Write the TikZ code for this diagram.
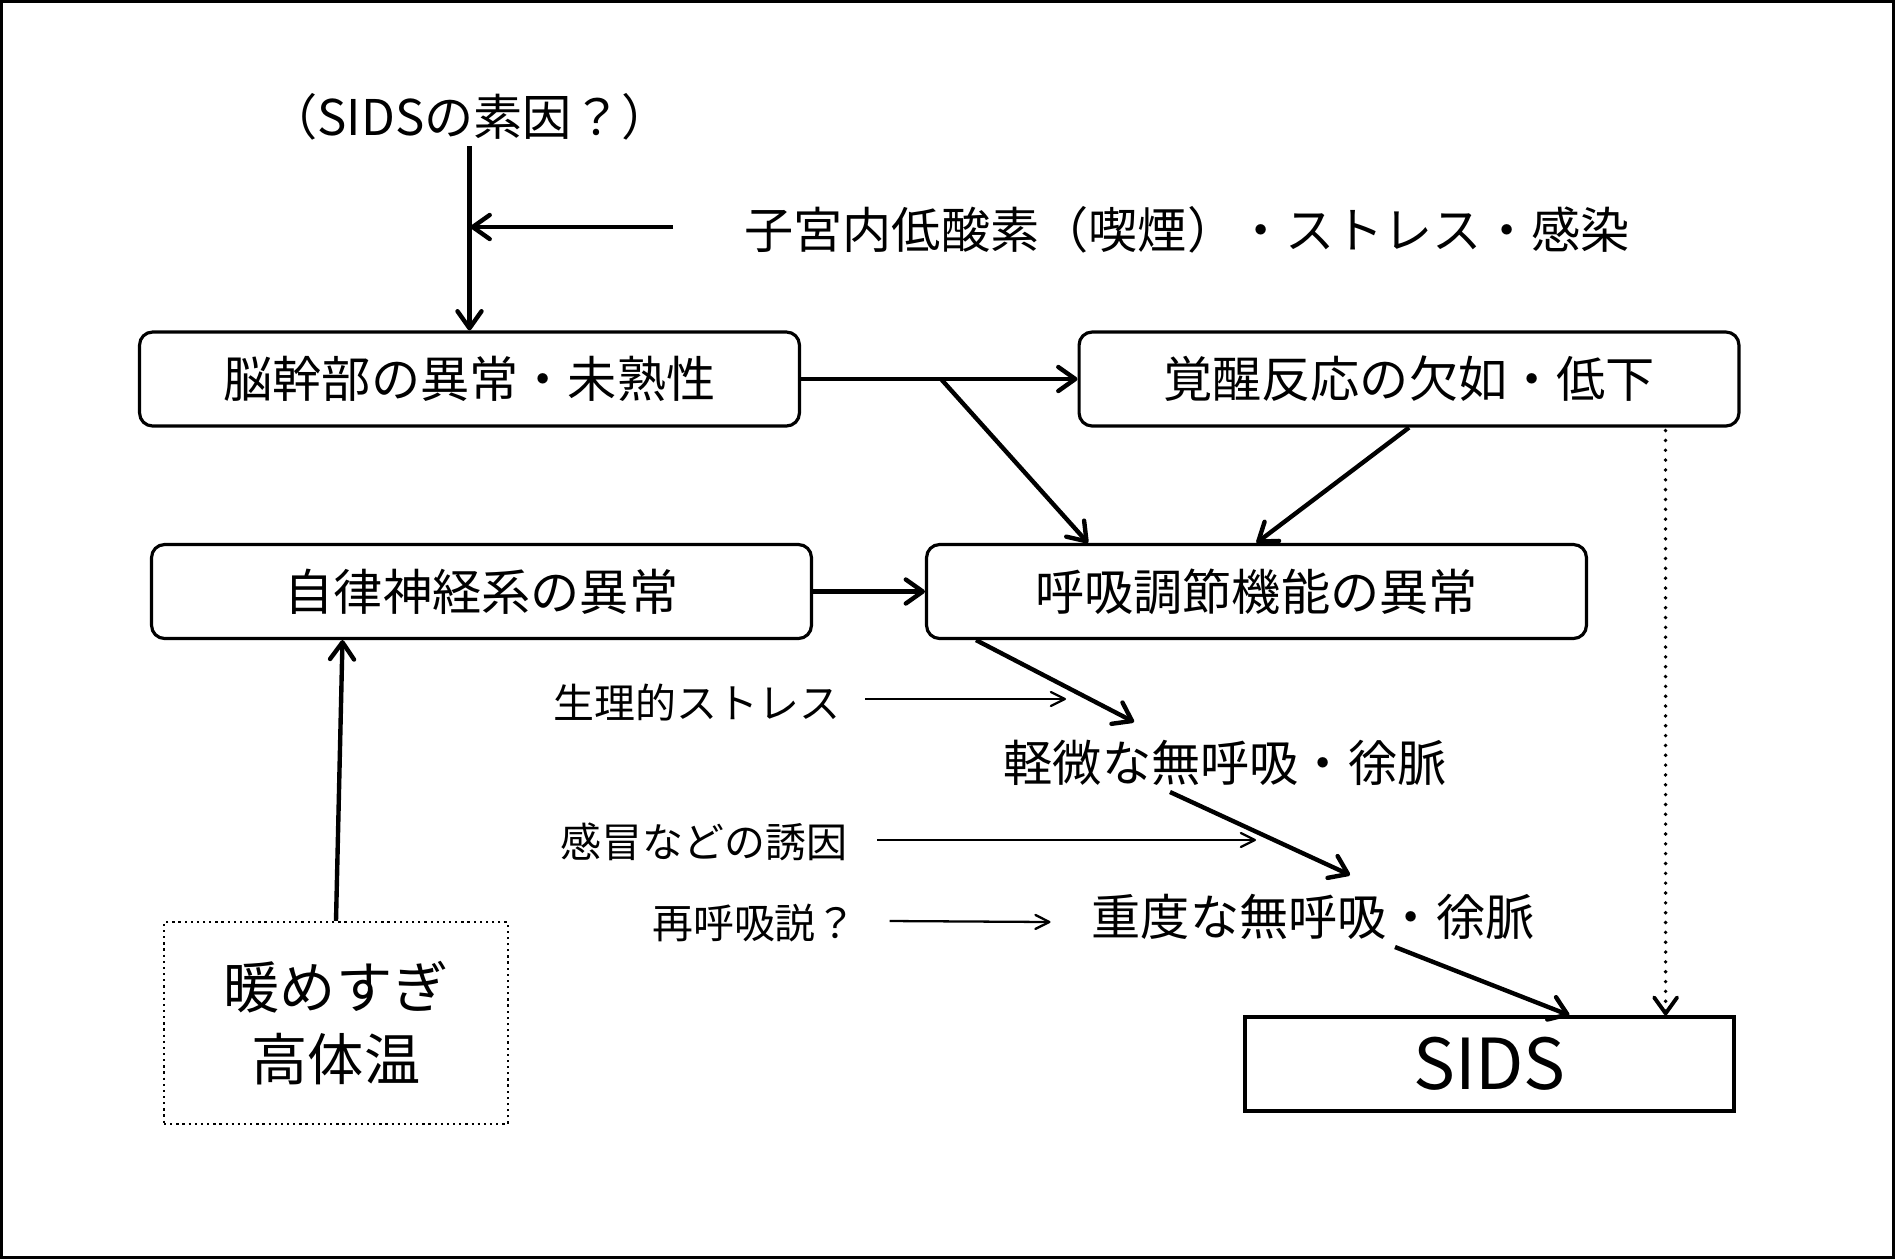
\documentclass[tikz,border=0pt]{standalone}
\usepackage{fontspec}
\setmainfont{Noto Sans CJK JP}
\usetikzlibrary{arrows.meta,calc}
\begin{document}
\begin{tikzpicture}[x=0.02cm,y=-0.02cm,
  rbox/.style={draw,line width=1.8pt,rounded corners=0.26cm,minimum width=13.2cm,minimum height=1.88cm,inner sep=0pt,font=\fontsize{28}{34}\selectfont},
  txt/.style={inner sep=0pt,font=\fontsize{28}{34}\selectfont},
  smalltxt/.style={inner sep=0pt,font=\fontsize{23.3}{28}\selectfont},
  thickarrow/.style={line width=2.5pt,-{Straight Barb[length=3.4mm,width=4.8mm,line width=2.5pt,round]}},
  thinarrow/.style={line width=1.3pt,-{Straight Barb[length=2.8mm,width=2.8mm,line width=1.3pt,round]}},
  dotarrow/.style={line width=2.2pt,line cap=round,dash pattern=on 0pt off 5.6pt,-{Straight Barb[length=3.2mm,width=4.6mm,line width=2.2pt,round]}}]
\useasboundingbox (0,0) rectangle (1895,1259);
\draw[line width=1.8pt] (1.6,1.6) rectangle (1893.4,1257.4);

% nodes
\node[txt] (top) at (469.5,117) {（SIDSの素因？）};
\node[txt] (U) at (1187,230) {子宮内低酸素（喫煙）・ストレス・感染};
\node[rbox] (A) at (469.5,379) {脳幹部の異常・未熟性};
\node[rbox] (B) at (1409,379) {覚醒反応の欠如・低下};
\node[rbox] (C) at (481.5,591.5) {自律神経系の異常};
\node[rbox] (D) at (1256.5,591.5) {呼吸調節機能の異常};
\node[txt] (L) at (1225,763) {軽微な無呼吸・徐脈};
\node[txt] (H) at (1313,917) {重度な無呼吸・徐脈};
\node[smalltxt] (S1) at (697,703) {生理的ストレス};
\node[smalltxt] (S2) at (704,842) {感冒などの誘因};
\node[smalltxt] (S3) at (754.5,923) {再呼吸説？};
\node[draw,line width=1.9pt,minimum width=9.78cm,minimum height=1.88cm,inner sep=0pt,font=\fontsize{40}{48}\selectfont] (E) at (1489.5,1064) {SIDS};
\node[draw,line width=1.3pt,dash pattern=on 1.3pt off 2.2pt,minimum width=6.88cm,minimum height=4.04cm,inner sep=0pt,align=center,font=\fontsize{32}{41}\selectfont] (F) at (336,1023) {暖めすぎ\\高体温};

% coordinates
\coordinate (m) at (470.5,227);
\coordinate (br) at (941,379);

% connectors
\draw[thickarrow] ($(top.center)+(0,29)$) -- (A.north);
\draw[thickarrow] ($(U.center)+(-514,-3)$) -- (m);
\draw[thickarrow] (A.east) -- (B.west);
\draw[thickarrow] (br) -- ($(D.north west)+(163,0)$);
\draw[thickarrow] (B.south) -- (D.north);
\draw[dotarrow] ($(B.south east)+(-75,3)$) -- ($(E.north east)+(-70,0)$);
\draw[thickarrow] (C.east) -- (D.west);
\draw[thickarrow] (F.north) -- ($(C.south)+(-139,0)$);
\draw[thickarrow] ($(D.south west)+(51,0)$) -- ($(L.center)+(-91,-41)$);
\draw[thickarrow] ($(L.center)+(-55,29)$) -- ($(H.center)+(37,-42)$);
\draw[thickarrow] ($(H.center)+(82,30)$) -- ($(E.north)+(80,0)$);
\draw[thinarrow] ($(S1.center)+(168,-4)$) -- ($(S1.center)+(369,-4)$);
\draw[thinarrow] ($(S2.center)+(173,-2)$) -- ($(S2.center)+(552,-2)$);
\draw[thinarrow] ($(S3.center)+(135,-2)$) -- ($(S3.center)+(296,-1)$);
\end{tikzpicture}
\end{document}
